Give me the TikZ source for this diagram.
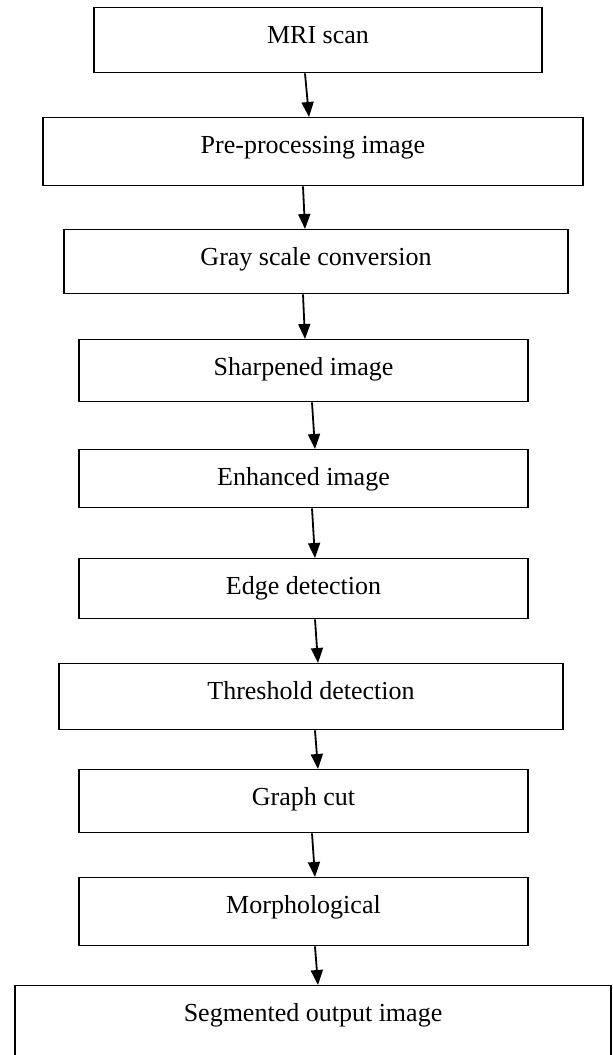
\documentclass[tikz,border=0pt]{standalone}
\usepackage{fontspec}
\setmainfont{Liberation Serif}
\usepackage{tikz}
\usetikzlibrary{arrows.meta, positioning}

\begin{document}
\begin{tikzpicture}[x=1pt, y=-1pt,
    stepbox/.style={draw, line width=1.4pt, inner sep=0pt, anchor=north,
        text height=36pt, font=\fontsize{26}{30}\selectfont},
    flow/.style={line width=1.8pt, -{Triangle[length=15pt,width=12pt]}}]
    \useasboundingbox (0,0) rectangle (613,1055);
    \clip (0,0) rectangle (613,1055);
    % Riquadri del flusso
    \node[stepbox, minimum width=448pt, text depth=29pt] (mri) at (318,7) {MRI scan};
    \node[stepbox, minimum width=540pt, text depth=32pt] (pre) at (313,117) {Pre-processing image};
    \node[stepbox, minimum width=504pt, text depth=28pt] (gray) at (316,229) {Gray scale conversion};
    \node[stepbox, minimum width=449pt, text depth=26pt] (sharp) at (303.5,339) {Sharpened image};
    \node[stepbox, minimum width=449pt, text depth=22pt] (enh) at (303.5,449) {Enhanced image};
    \node[stepbox, minimum width=449pt, text depth=24pt] (edge) at (303.5,558) {Edge detection};
    \node[stepbox, minimum width=504pt, text depth=30pt] (thr) at (311,663) {Threshold detection};
    \node[stepbox, minimum width=449pt, text depth=27pt] (gcut) at (303.5,769) {Graph cut};
    \node[stepbox, minimum width=449pt, text depth=32pt] (morph) at (303.5,877) {Morphological};
    \node[stepbox, minimum width=596pt, text depth=120pt] (seg) at (313,985) {Segmented output image};
    % Frecce di collegamento
    \draw[flow] ([xshift=-13pt]mri.south) -- ([xshift=-4pt]pre.north);
    \draw[flow] ([xshift=-10pt]pre.south) -- ([xshift=-11pt]gray.north);
    \draw[flow] ([xshift=-13pt]gray.south) -- ([xshift=1.5pt]sharp.north);
    \draw[flow] ([xshift=8.5pt]sharp.south) -- ([xshift=11.5pt]enh.north);
    \draw[flow] ([xshift=8.5pt]enh.south) -- ([xshift=11.5pt]edge.north);
    \draw[flow] ([xshift=11.5pt]edge.south) -- ([xshift=7pt]thr.north);
    \draw[flow] ([xshift=4pt]thr.south) -- ([xshift=14.5pt]gcut.north);
    \draw[flow] ([xshift=8.5pt]gcut.south) -- ([xshift=11.5pt]morph.north);
    \draw[flow] ([xshift=11.5pt]morph.south) -- ([xshift=5pt]seg.north);
\end{tikzpicture}
\end{document}
